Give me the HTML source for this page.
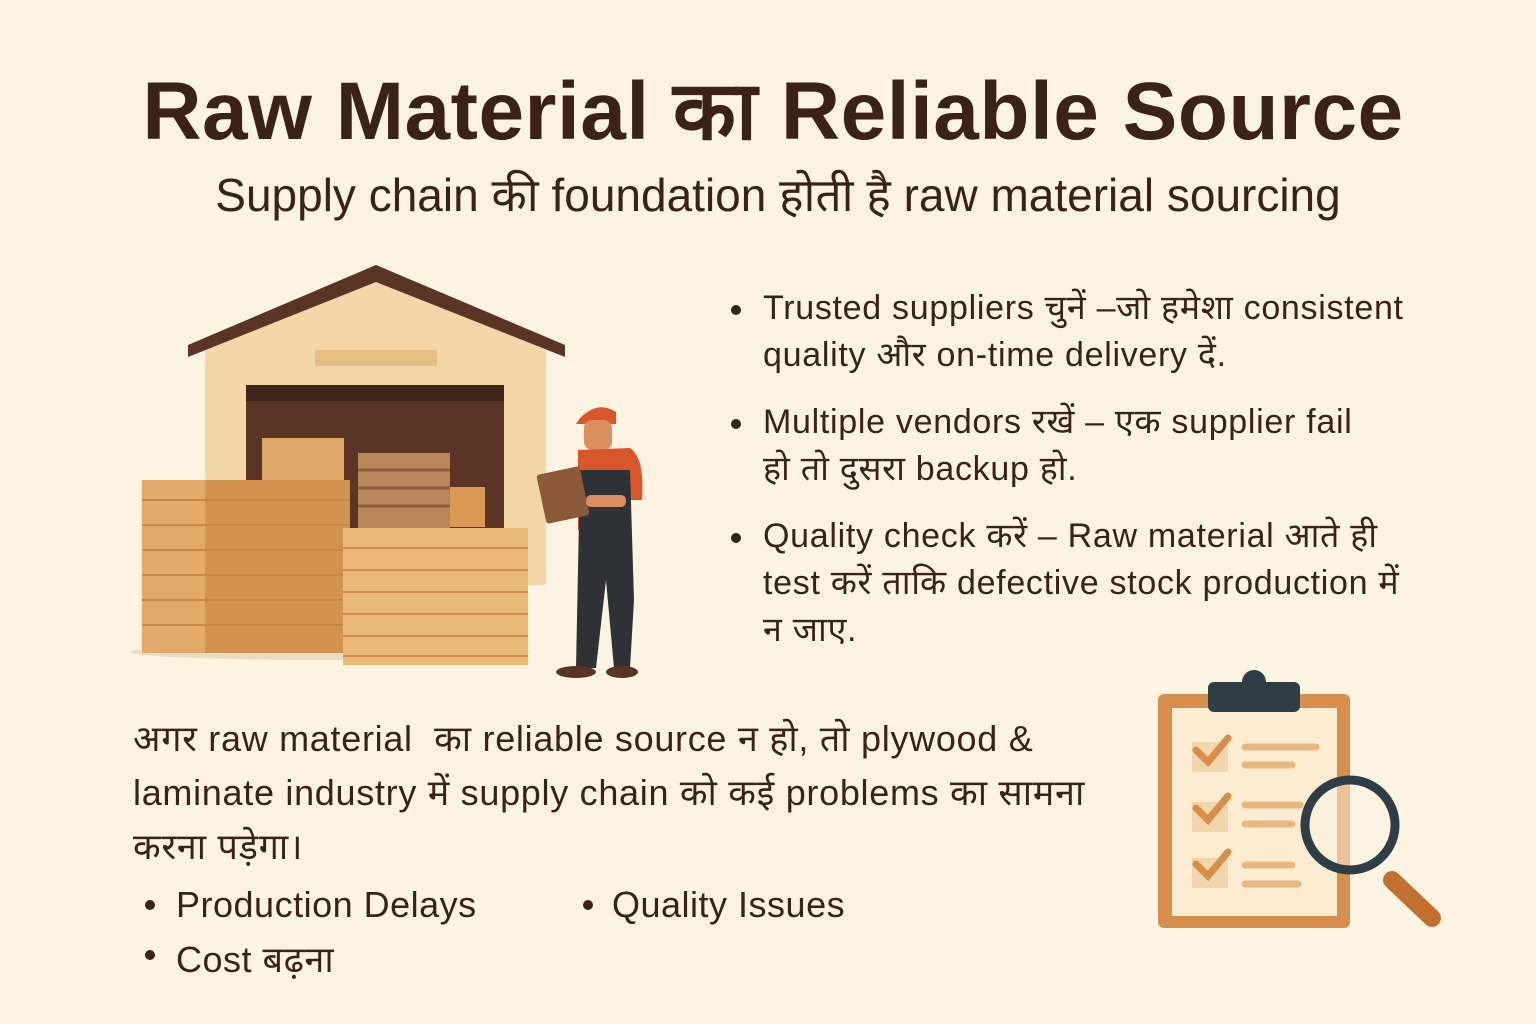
<!DOCTYPE html>
<html><head><meta charset="utf-8">
<style>
html,body{margin:0;padding:0}
body{width:1536px;height:1024px;background:#fcf3e3;position:relative;overflow:hidden;font-family:"Liberation Sans","DejaVu Sans",sans-serif;color:#3b2218}
.t{position:absolute;white-space:nowrap}
#title{left:0;width:1546px;text-align:center;top:52px;font-size:82px;font-weight:bold;letter-spacing:0.5px}
#sub{left:0;width:1556px;text-align:center;top:163px;font-size:46px;color:#3b2218}
.b{font-size:34px;line-height:47px;letter-spacing:0.7px}
.dot{position:absolute;width:10px;height:10px;border-radius:50%;background:#3b2218}
.p{font-size:36px;letter-spacing:0.7px}
.q{font-size:36px;letter-spacing:0.5px}
</style></head><body>
<div class="t" id="title">Raw Material का Reliable Source</div>
<div class="t" id="sub">Supply chain की foundation होती है raw material sourcing</div>

<svg style="position:absolute;left:0;top:0" width="1536" height="1024">
 <polygon points="205,350 376,280 546,350 546,585 205,585" fill="#f3d7a9"/>
 <polygon points="188,345 376,265 565,345 565,357 376,282 188,357" fill="#5a3424"/>
 <rect x="315" y="350" width="122" height="16" fill="#e8bf85"/>
 <rect x="246" y="385" width="258" height="200" fill="#5a3424"/>
 <rect x="246" y="385" width="258" height="16" fill="#3f2419"/>
 <rect x="262" y="438" width="82" height="45" fill="#e0a868"/>
 <rect x="358" y="453" width="92" height="80" fill="#b9875a"/>
 <g stroke="#8a5e3c" stroke-width="3"><line x1="358" y1="470" x2="450" y2="470"/><line x1="358" y1="488" x2="450" y2="488"/><line x1="358" y1="506" x2="450" y2="506"/></g>
 <rect x="450" y="487" width="35" height="40" fill="#d99a55"/>
 <ellipse cx="330" cy="652" rx="200" ry="8" fill="#eadbc2"/>
 <rect x="142" y="480" width="208" height="173" fill="#e3a96a"/>
 <rect x="205" y="480" width="145" height="173" fill="#d4924f"/>
 <g stroke="#c98747" stroke-width="2">
  <line x1="142" y1="500" x2="350" y2="500"/><line x1="142" y1="525" x2="350" y2="525"/><line x1="142" y1="550" x2="350" y2="550"/><line x1="142" y1="575" x2="350" y2="575"/><line x1="142" y1="600" x2="350" y2="600"/><line x1="142" y1="625" x2="350" y2="625"/></g>
 <rect x="343" y="528" width="185" height="137" fill="#eab877"/>
 <g stroke="#d08f4c" stroke-width="2">
  <line x1="343" y1="548" x2="528" y2="548"/><line x1="343" y1="570" x2="528" y2="570"/><line x1="343" y1="592" x2="528" y2="592"/><line x1="343" y1="614" x2="528" y2="614"/><line x1="343" y1="636" x2="528" y2="636"/><line x1="343" y1="656" x2="528" y2="656"/></g>
 <path d="M580,418 Q598,400 616,412 L616,424 L576,424 Z" fill="#d9552c"/>
 <rect x="584" y="420" width="28" height="30" rx="8" fill="#d98f5f"/>
 <path d="M578,450 L630,448 Q645,458 642,500 L630,500 L628,530 L578,530 Z" fill="#d9552c"/>
 <path d="M580,470 L630,470 L634,600 L630,668 L614,668 L606,580 L596,668 L576,668 Z" fill="#2f3136"/>
 <rect x="541" y="470" width="44" height="50" rx="3" transform="rotate(-12 563 495)" fill="#8a5a3a"/>
 <rect x="586" y="495" width="40" height="12" rx="5" fill="#d98f5f"/>
 <ellipse cx="576" cy="672" rx="20" ry="6" fill="#5a3424"/><ellipse cx="622" cy="672" rx="16" ry="6" fill="#5a3424"/>
 <rect x="1158" y="694" width="192" height="234" rx="6" fill="#d98f4c"/>
 <rect x="1172" y="708" width="165" height="208" fill="#fbecd2"/>
 <rect x="1208" y="682" width="92" height="30" rx="6" fill="#2f3d44"/>
 <circle cx="1254" cy="682" r="12" fill="#2f3d44"/>
 <g stroke-linecap="round">
  <g fill="#f1d6ad"><rect x="1192" y="742" width="36" height="30"/><rect x="1192" y="802" width="36" height="30"/><rect x="1192" y="858" width="36" height="30"/></g>
  <g stroke="#d98f4c" stroke-width="7" fill="none"><path d="M1196,750 L1208,762 L1228,738"/><path d="M1196,808 L1208,820 L1228,796"/><path d="M1196,864 L1208,876 L1228,852"/></g>
  <g stroke="#e8b87e" stroke-width="7"><line x1="1245" y1="747" x2="1316" y2="747"/><line x1="1245" y1="765" x2="1292" y2="765"/><line x1="1245" y1="805" x2="1300" y2="805"/><line x1="1245" y1="824" x2="1292" y2="824"/><line x1="1245" y1="865" x2="1292" y2="865"/><line x1="1245" y1="884" x2="1298" y2="884"/></g>
  <line x1="1392" y1="880" x2="1432" y2="918" stroke="#c2702f" stroke-width="18"/>
  <circle cx="1350" cy="825" r="45" fill="rgba(252,243,227,0.5)" stroke="#2f3d44" stroke-width="9"/>
 </g>
</svg>

<div class="dot" style="left:731px;top:305px"></div>
<div class="t b" style="left:763px;top:285px">Trusted suppliers चुनें –जो हमेशा consistent<br>quality और on-time delivery दें.</div>
<div class="dot" style="left:731px;top:419px"></div>
<div class="t b" style="left:763px;top:399px">Multiple vendors रखें – एक supplier fail<br>हो तो दुसरा backup हो.</div>
<div class="dot" style="left:731px;top:533px"></div>
<div class="t b" style="left:763px;top:513px">Quality check करें – Raw material आते ही<br>test करें ताकि defective stock production में<br>न जाए.</div>

<div class="t p" style="left:133px;top:712px;line-height:54px">अगर raw material &nbsp;का reliable source न हो, तो plywood &amp;<br>laminate industry में supply chain को कई problems का सामना<br>करना पड़ेगा।</div>
<div class="dot" style="left:145px;top:900px"></div>
<div class="t q" style="left:176px;top:884px">Production Delays</div>
<div class="dot" style="left:583px;top:900px"></div>
<div class="t q" style="left:612px;top:884px">Quality Issues</div>
<div class="dot" style="left:145px;top:950px"></div>
<div class="t q" style="left:176px;top:934px">Cost बढ़ना</div>
</body></html>
